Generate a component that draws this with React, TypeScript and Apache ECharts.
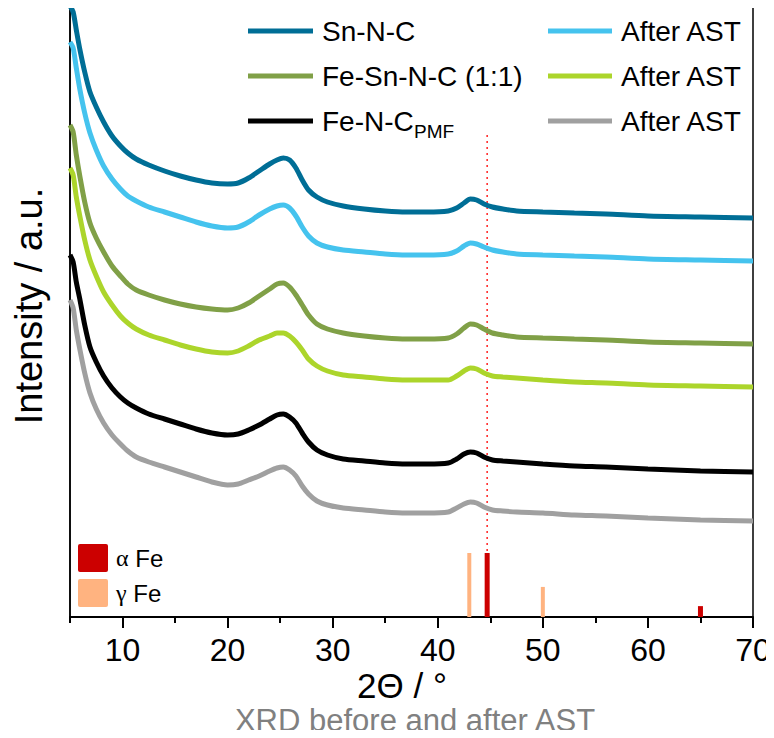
import React, { useEffect, useRef } from "react";
import * as echarts from "echarts";

// ---- data (2θ grid and offset intensities, a.u.) ----
const twoTheta = [5.0, 5.3, 5.6, 5.95, 6.4, 6.9, 7.5, 8.2, 9.0, 9.8, 10.5, 11.3, 12.5, 14.0, 15.5, 17.0, 18.5, 20.0, 21.0, 22.0, 23.0, 24.0, 24.7, 25.3, 25.9, 26.5, 27.1, 27.7, 28.5, 29.5, 31.0, 33.0, 35.0, 37.0, 39.0, 41.0, 41.8, 42.5, 43.1, 43.7, 44.4, 45.2, 46.2, 47.5, 50.0, 53.0, 56.0, 60.0, 65.0, 70.0];

const snNC = [611, 605, 587, 567, 545, 525, 510, 495, 481, 471, 464, 458, 452, 446, 441, 437, 434, 433, 434, 439, 446, 453, 457, 459, 457, 449, 437, 427, 420, 415, 411, 408, 406, 405, 405, 406, 409, 414, 418, 417, 413, 410, 408, 406, 405, 404, 403, 401, 400, 399];
const snNCAfter = [575, 569, 549, 527, 504, 484, 467, 451, 438, 428, 421, 416, 410, 405, 400, 395, 391, 389, 390, 395, 402, 408, 411, 412, 409, 401, 390, 381, 374, 370, 367, 365, 363, 362, 362, 363, 366, 371, 374, 373, 370, 367, 365, 363, 362, 361, 360, 358, 357, 356];
const feSnNC = [492, 485, 462, 440, 415, 394, 379, 365, 351, 341, 333, 327, 322, 317, 313, 310, 308, 307, 309, 314, 321, 328, 333, 334, 330, 322, 312, 302, 293, 288, 284, 281, 279, 278, 278, 279, 283, 289, 293, 292, 288, 284, 282, 280, 279, 278, 277, 275, 274, 273];
const feSnNCAfter = [449, 442, 420, 400, 377, 357, 341, 325, 312, 301, 294, 288, 282, 277, 272, 268, 265, 264, 266, 271, 277, 281, 284, 284, 281, 275, 267, 258, 251, 246, 242, 240, 238, 237, 237, 237, 241, 246, 249, 248, 244, 241, 240, 239, 237, 235, 234, 232, 231, 230];
const feNC = [362, 355, 335, 317, 292, 270, 255, 241, 229, 220, 214, 209, 203, 198, 193, 188, 184, 182, 183, 187, 192, 198, 202, 203, 200, 194, 184, 175, 167, 162, 158, 156, 154, 153, 153, 154, 158, 163, 165, 164, 160, 157, 156, 155, 153, 151, 150, 148, 146, 145];
const feNCAfter = [317, 309, 287, 267, 244, 224, 208, 194, 182, 173, 166, 160, 155, 150, 145, 140, 135, 132, 133, 137, 141, 146, 149, 150, 147, 141, 131, 123, 116, 112, 109, 107, 105, 104, 104, 105, 109, 113, 115, 114, 110, 107, 106, 105, 104, 102, 101, 99, 97, 96];

// reference patterns (relative intensity %)
const alphaFePos = [44.7, 65.0];
const alphaFeInt = [100, 17];
const gammaFePos = [43.0, 50.0];
const gammaFeInt = [100, 47];

const dottedLineX = 44.7;
const dottedLineTop = 482;

const majorTicks = [10, 20, 30, 40, 50, 60, 70];
const minorTicks = [5, 15, 25, 35, 45, 55, 65];

const seriesNames = ["Sn-N-C", "After AST", "Fe-Sn-N-C (1:1)", "After AST", "Fe-N-C", "After AST"];

// ---- styles ----
const COLORS = ["#006e96", "#45c3ee", "#80a047", "#acd52b", "#000000", "#a0a0a0"];
const ALPHA_COLOR = "#cc0000";
const GAMMA_COLOR = "#ffb380";
const REF_SCALE = 0.64;
const FONT = "'Liberation Sans', Arial, sans-serif";
const SERIF = "'Liberation Serif', 'DejaVu Serif', serif";

export default function App() {
  const ref = useRef<HTMLDivElement>(null);

  useEffect(() => {
    if (!ref.current) return;
    const chart = echarts.init(ref.current, null, { renderer: "svg" });

    const curves = [snNC, snNCAfter, feSnNC, feSnNCAfter, feNC, feNCAfter];
    const lineSeries = curves.map((vals, i) => ({
      name: seriesNames[i] + "#" + i,
      type: "line",
      data: twoTheta.map((t, j) => [t, vals[j]]),
      showSymbol: false,
      symbol: "none",
      smooth: 0.25,
      lineStyle: { color: COLORS[i], width: 5 },
      z: 3,
      clip: true,
    }));

    const makeBars = (pos: number[], ints: number[], color: string, w: number) => ({
      type: "custom",
      data: pos.map((p, i) => [p, ints[i] * REF_SCALE]),
      z: 4,
      renderItem: (params: any, api: any) => {
        const x = api.value(0);
        const h = api.value(1);
        const p0 = api.coord([x, 0]);
        const p1 = api.coord([x, h]);
        return {
          type: "rect",
          shape: { x: p0[0] - w / 2, y: p1[1], width: w, height: p0[1] - p1[1] },
          style: { fill: color },
        };
      },
    });

    const legendRows = [31, 76, 121];
    const legendGraphics: any[] = [];
    const leftLabels = ["Sn-N-C", "Fe-Sn-N-C (1:1)", "Fe-N-C"];
    legendRows.forEach((y, r) => {
      legendGraphics.push({
        type: "line",
        shape: { x1: 248, y1: y, x2: 313, y2: y },
        style: { stroke: COLORS[r * 2], lineWidth: 5 },
      });
      legendGraphics.push({
        type: "text",
        x: 322,
        y: y,
        style: { text: leftLabels[r], font: `28px ${FONT}`, fill: "#000", verticalAlign: "middle", align: "left" },
      });
      legendGraphics.push({
        type: "line",
        shape: { x1: 548, y1: y, x2: 612, y2: y },
        style: { stroke: COLORS[r * 2 + 1], lineWidth: 5 },
      });
      legendGraphics.push({
        type: "text",
        x: 621,
        y: y,
        style: { text: "After AST", font: `28px ${FONT}`, fill: "#000", verticalAlign: "middle", align: "left" },
      });
    });
    legendGraphics.push({
      type: "text",
      x: 414,
      y: 131,
      style: { text: "PMF", font: `19px ${FONT}`, fill: "#000", verticalAlign: "middle", align: "left" },
    });

    const option: any = {
      animation: false,
      backgroundColor: "#ffffff",
      grid: {
        left: 70,
        right: 21,
        top: 7,
        bottom: 121,
        show: true,
        borderColor: "#000",
        borderWidth: 1.5,
        backgroundColor: "transparent",
      },
      xAxis: [
        {
          type: "value",
          min: 5,
          max: 70,
          position: "bottom",
          axisLine: { show: true, onZero: false, lineStyle: { color: "#000", width: 2 } },
          axisTick: { show: true, customValues: majorTicks, length: 11, inside: false, lineStyle: { color: "#000", width: 2 } },
          axisLabel: { show: true, customValues: majorTicks, fontSize: 32, fontFamily: FONT, color: "#000", margin: 17 },
          splitLine: { show: false },
        },
        {
          type: "value",
          min: 5,
          max: 70,
          position: "bottom",
          axisLine: { show: false },
          axisTick: { show: true, customValues: minorTicks, length: 6, inside: false, lineStyle: { color: "#000", width: 2 } },
          axisLabel: { show: false },
          splitLine: { show: false },
        },
      ],
      yAxis: {
        type: "value",
        min: 0,
        max: 610,
        axisLine: { show: true, lineStyle: { color: "#000", width: 1.5 } },
        axisTick: { show: false },
        axisLabel: { show: false },
        splitLine: { show: false },
      },
      series: [
        ...lineSeries,
        makeBars(gammaFePos, gammaFeInt, GAMMA_COLOR, 4),
        makeBars(alphaFePos, alphaFeInt, ALPHA_COLOR, 5),
        {
          type: "line",
          data: [
            [dottedLineX, 0],
            [dottedLineX, dottedLineTop],
          ],
          showSymbol: false,
          symbol: "none",
          lineStyle: { color: "#ff2020", width: 1.5, type: [2, 4] },
          z: 2,
        },
      ],
      graphic: [
        ...legendGraphics,
        {
          type: "rect",
          shape: { x: 78, y: 544, width: 30, height: 28, r: 2 },
          style: { fill: ALPHA_COLOR },
        },
        {
          type: "rect",
          shape: { x: 78, y: 579, width: 30, height: 28, r: 2 },
          style: { fill: GAMMA_COLOR },
        },
        {
          type: "text",
          x: 116,
          y: 558,
          style: {
            text: "{g|α} Fe",
            font: `24px ${FONT}`,
            fill: "#000",
            verticalAlign: "middle",
            rich: { g: { fontFamily: SERIF, fontSize: 24 } },
          },
        },
        {
          type: "text",
          x: 116,
          y: 593,
          style: {
            text: "{g|γ} Fe",
            font: `24px ${FONT}`,
            fill: "#000",
            verticalAlign: "middle",
            rich: { g: { fontFamily: SERIF, fontSize: 24 } },
          },
        },
        {
          type: "text",
          x: 29,
          y: 306,
          rotation: Math.PI / 2,
          style: { text: "Intensity / a.u.", font: `38px ${FONT}`, fill: "#000", align: "center", verticalAlign: "middle" },
        },
        {
          type: "text",
          x: 402,
          y: 685,
          style: { text: "2Θ / °", font: `35px ${FONT}`, fill: "#000", align: "center", verticalAlign: "middle" },
        },
        {
          type: "text",
          x: 415,
          y: 720,
          style: { text: "XRD before and after AST", font: `31px ${FONT}`, fill: "#808080", align: "center", verticalAlign: "middle" },
        },
      ],
    };

    chart.setOption(option);
    return () => chart.dispose();
  }, []);

  return <div ref={ref} style={{ width: 774, height: 738, margin: -8 }} />;
}
